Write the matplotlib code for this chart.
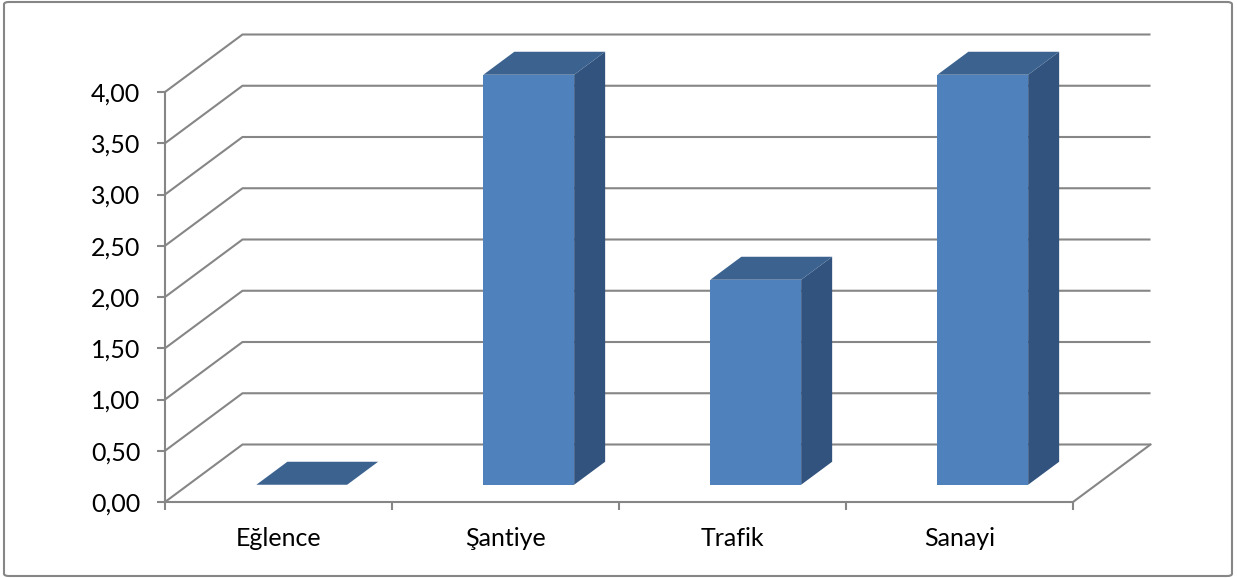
import matplotlib
matplotlib.use("Agg")
import matplotlib.pyplot as plt
from matplotlib.patches import Polygon, FancyBboxPatch

categories = ["Eğlence", "Şantiye", "Trafik", "Sanayi"]
values = [0.0, 4.0, 2.0, 4.0]
y_ticks = [0.0, 0.5, 1.0, 1.5, 2.0, 2.5, 3.0, 3.5, 4.0]

plt.rcParams['font.family'] = ['Lato', 'DejaVu Sans']

W, H = 1237, 578
fig = plt.figure(figsize=(W / 100, H / 100), dpi=100)

# front plane of the 3D box, in figure fractions
left, right = 165 / W, 1073 / W
bottom, top = 1 - 502 / H, 1 - 92 / H
ax = fig.add_axes([left, bottom, right - left, top - bottom])
ax.set_xlim(0, len(categories))
ax.set_ylim(0, 4)

# oblique depth offset (one full depth unit), in data units
DX = 77.5 / (908 / 4)
DY = 57.5 / (410 / 4)


def proj(x, v, d):
    return (x + d * DX, v + d * DY)


grid_col = "#868686"
lw = 1.5

# side wall and back wall gridlines
for v in y_ticks:
    xs, ys = zip(proj(0, v, 0), proj(0, v, 1), proj(len(categories), v, 1))
    ax.plot(xs, ys, color=grid_col, lw=lw, clip_on=False, zorder=1,
            solid_capstyle="butt")
# right edge of the floor
xs, ys = zip(proj(len(categories), 0, 0), proj(len(categories), 0, 1))
ax.plot(xs, ys, color=grid_col, lw=lw, clip_on=False, zorder=1)

front_col = "#4F81BD"
top_col = "#3C6390"
side_col = "#32537D"
bw = 0.2      # half bar width
d0, d1 = 0.3, 0.7

for i, val in enumerate(values):
    x0 = i + 0.5 - bw
    x1 = i + 0.5 + bw
    if val > 0:
        front = [proj(x0, 0, d0), proj(x1, 0, d0), proj(x1, val, d0), proj(x0, val, d0)]
        side = [proj(x1, 0, d0), proj(x1, 0, d1), proj(x1, val, d1), proj(x1, val, d0)]
        ax.add_patch(Polygon(front, closed=True, fc=front_col, ec="none", clip_on=False, zorder=3))
        ax.add_patch(Polygon(side, closed=True, fc=side_col, ec="none", clip_on=False, zorder=3))
    cap = [proj(x0, val, d0), proj(x1, val, d0), proj(x1, val, d1), proj(x0, val, d1)]
    ax.add_patch(Polygon(cap, closed=True, fc=top_col, ec="none", clip_on=False, zorder=3))

# axes: front vertical axis and front floor edge
for s in ["top", "right"]:
    ax.spines[s].set_visible(False)
for s in ["left", "bottom"]:
    ax.spines[s].set_color(grid_col)
    ax.spines[s].set_linewidth(lw)
    ax.spines[s].set_zorder(2)

ax.set_yticks(y_ticks)
ax.set_yticklabels([f"{v:.2f}".replace(".", ",") for v in y_ticks])
ax.tick_params(axis="y", length=5.8, width=lw, color=grid_col, pad=12,
               labelsize=18, labelcolor="black")

ax.set_xticks(range(len(categories) + 1))
ax.set_xticklabels([])
ax.tick_params(axis="x", which="major", length=6, width=lw, color=grid_col)
ax.set_xticks([i + 0.5 for i in range(len(categories))], minor=True)
ax.set_xticklabels(categories, minor=True)
ax.tick_params(axis="x", which="minor", length=0, pad=18, labelsize=18,
               labelcolor="black")
ax.set_facecolor("none")

# chart border
fig.patches.append(FancyBboxPatch((4 / W, 2 / H), 1228 / W, 574 / H,
                                  boxstyle="round,pad=0,rounding_size=0.004",
                                  transform=fig.transFigure, fc="none",
                                  ec=grid_col, lw=1.5))

fig.savefig("out.png", dpi=100)
